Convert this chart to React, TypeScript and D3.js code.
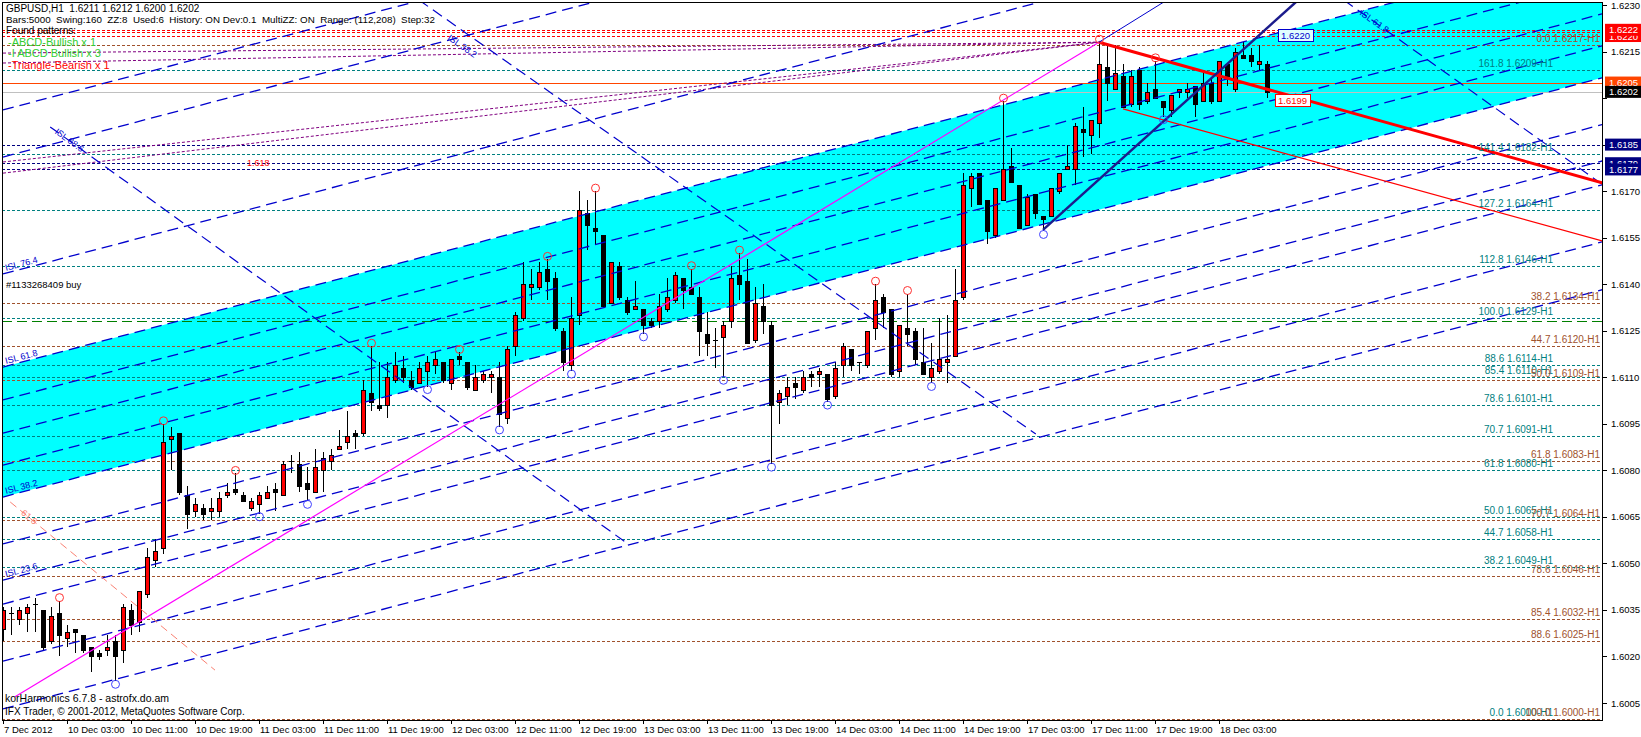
import React from 'react';
import * as d3 from 'd3';

// ---------- DATA ----------
const opens = [1.6029,1.6034,1.6032,1.6034,1.6037,1.6035,1.6025,1.6034,1.6026,1.6029,1.6027,1.6023,1.6021,1.6022,1.6025,1.6022,1.6035,1.6031,1.6040,1.6051,
1.6055,1.6090,1.6092,1.6072,1.6067,1.6068,1.6067,1.6067,1.6072,1.6074,1.6072,1.6068,1.6069,1.6071,1.6074,1.6072,1.6083,1.6082,1.6076,1.6073,
1.6080,1.6083,1.6087,1.6089,1.6092,1.6092,1.6105,1.6101,1.6101,1.6109,1.6113,1.6109,1.6108,1.6112,1.6114,1.6115,1.6108,1.6117,1.6115,1.6106,
1.6109,1.6110,1.6110,1.6097,1.6120,1.6129,1.6139,1.6139,1.6145,1.6142,1.6125,1.6114,1.6130,1.6163,1.6158,1.6156,1.6134,1.6146,1.6135,1.6132,
1.6132,1.6128,1.6128,1.6132,1.6135,1.6142,1.6139,1.6136,1.6124,1.6122,1.6123,1.6128,1.6143,1.6141,1.6122,1.6133,1.6127,1.6102,1.6104,1.6108,
1.6106,1.6111,1.6111,1.6111,1.6104,1.6114,1.6119,1.6115,1.6114,1.6126,1.6136,1.6132,1.6112,1.6126,1.6125,1.6115,1.6110,1.6112,1.6115,1.6117,
1.6136,1.6171,1.6176,1.6167,1.6156,1.6167,1.6178,1.6172,1.6159,1.6169,1.6162,1.6162,1.6170,1.6177,1.6177,1.6190,1.6188,1.6192,1.6210,1.6203,
1.6207,1.6198,1.6209,1.6199,1.6203,1.6199,1.6196,1.6202,1.6202,1.6204,1.6199,1.6205,1.6199,1.6211,1.6203,1.6214,1.6214,1.6211,1.6211];
const highs = [1.6036,1.6036,1.6036,1.6037,1.6039,1.6035,1.6036,1.6038,1.6030,1.6029,1.6027,1.6023,1.6022,1.6027,1.6027,1.6037,1.6037,1.6041,1.6055,1.6058,
1.6095,1.6094,1.6092,1.6075,1.6071,1.6069,1.6071,1.6073,1.6076,1.6079,1.6073,1.6071,1.6073,1.6075,1.6076,1.6083,1.6085,1.6086,1.6081,1.6087,
1.6086,1.6087,1.6093,1.6099,1.6093,1.6109,1.6120,1.6115,1.6115,1.6118,1.6117,1.6112,1.6115,1.6117,1.6118,1.6115,1.6116,1.6118,1.6115,1.6114,
1.6112,1.6112,1.6115,1.6120,1.6131,1.6147,1.6145,1.6147,1.6148,1.6144,1.6126,1.6136,1.6170,1.6167,1.6170,1.6156,1.6147,1.6147,1.6136,1.6141,
1.6132,1.6129,1.6137,1.6142,1.6144,1.6142,1.6145,1.6139,1.6131,1.6126,1.6128,1.6146,1.6150,1.6148,1.6139,1.6140,1.6128,1.6106,1.6110,1.6110,
1.6112,1.6112,1.6113,1.6111,1.6115,1.6121,1.6119,1.6115,1.6125,1.6140,1.6137,1.6132,1.6127,1.6137,1.6126,1.6126,1.6121,1.6129,1.6130,1.6145,
1.6176,1.6176,1.6176,1.6167,1.6171,1.6199,1.6184,1.6172,1.6169,1.6169,1.6162,1.6171,1.6176,1.6185,1.6192,1.6197,1.6193,1.6218,1.6217,1.6217,
1.6211,1.6209,1.6210,1.6205,1.6212,1.6199,1.6201,1.6203,1.6205,1.6204,1.6208,1.6206,1.6212,1.6211,1.6216,1.6218,1.6216,1.6217,1.6212];
const lows = [1.6025,1.6027,1.6030,1.6028,1.6028,1.6022,1.6024,1.6020,1.6023,1.6021,1.6021,1.6015,1.6019,1.6020,1.6012,1.6018,1.6027,1.6028,1.6039,1.6049,
1.6053,1.6080,1.6072,1.6061,1.6065,1.6064,1.6064,1.6065,1.6071,1.6072,1.6070,1.6067,1.6066,1.6071,1.6067,1.6072,1.6079,1.6073,1.6070,1.6073,
1.6073,1.6080,1.6087,1.6087,1.6087,1.6091,1.6099,1.6099,1.6097,1.6108,1.6108,1.6106,1.6108,1.6107,1.6111,1.6108,1.6106,1.6114,1.6106,1.6106,
1.6108,1.6105,1.6094,1.6095,1.6117,1.6128,1.6135,1.6138,1.6135,1.6125,1.6112,1.6112,1.6127,1.6151,1.6153,1.6133,1.6134,1.6135,1.6130,1.6132,
1.6124,1.6126,1.6126,1.6131,1.6134,1.6132,1.6137,1.6117,1.6117,1.6113,1.6110,1.6126,1.6135,1.6121,1.6121,1.6124,1.6082,1.6095,1.6101,1.6103,
1.6105,1.6107,1.6107,1.6102,1.6103,1.6110,1.6112,1.6111,1.6113,1.6122,1.6126,1.6110,1.6110,1.6120,1.6114,1.6111,1.6108,1.6111,1.6108,1.6117,
1.6135,1.6165,1.6166,1.6153,1.6155,1.6167,1.6173,1.6158,1.6159,1.6161,1.6157,1.6162,1.6169,1.6177,1.6172,1.6181,1.6182,1.6187,1.6199,1.6203,
1.6197,1.6197,1.6196,1.6198,1.6200,1.6194,1.6194,1.6200,1.6200,1.6194,1.6199,1.6198,1.6199,1.6204,1.6202,1.6213,1.6210,1.6209,1.6200];
const closes = [1.6035,1.6034,1.6035,1.6036,1.6037,1.6023,1.6033,1.6027,1.6028,1.6028,1.6022,1.6020,1.6020,1.6023,1.6020,1.6036,1.6030,1.6041,1.6052,1.6054,
1.6089,1.6091,1.6073,1.6066,1.6069,1.6066,1.6068,1.6071,1.6073,1.6073,1.6070,1.6070,1.6072,1.6073,1.6073,1.6082,1.6083,1.6075,1.6074,1.6081,
1.6084,1.6085,1.6088,1.6091,1.6091,1.6106,1.6102,1.6100,1.6110,1.6114,1.6110,1.6107,1.6113,1.6115,1.6116,1.6109,1.6116,1.6116,1.6107,1.6110,
1.6111,1.6111,1.6098,1.6119,1.6130,1.6140,1.6140,1.6144,1.6141,1.6126,1.6115,1.6129,1.6164,1.6159,1.6157,1.6133,1.6147,1.6136,1.6131,1.6133,
1.6127,1.6127,1.6133,1.6136,1.6143,1.6138,1.6137,1.6125,1.6121,1.6122,1.6127,1.6142,1.6140,1.6121,1.6134,1.6128,1.6101,1.6105,1.6107,1.6107,
1.6110,1.6110,1.6112,1.6103,1.6113,1.6120,1.6114,1.6115,1.6125,1.6135,1.6131,1.6111,1.6127,1.6124,1.6116,1.6111,1.6113,1.6116,1.6116,1.6135,
1.6172,1.6175,1.6166,1.6157,1.6171,1.6177,1.6173,1.6158,1.6168,1.6163,1.6161,1.6171,1.6176,1.6178,1.6191,1.6189,1.6193,1.6211,1.6205,1.6208,
1.6197,1.6207,1.6198,1.6202,1.6200,1.6197,1.6201,1.6203,1.6203,1.6198,1.6205,1.6199,1.6212,1.6207,1.6215,1.6213,1.6212,1.6212,1.6202];

const swingHighBars = [7, 20, 29, 46, 57, 68, 74, 86, 92, 109, 113, 125, 137, 144];
const swingLowBars = [14, 32, 38, 53, 62, 71, 80, 90, 96, 103, 116, 130, 145];

const timeLabels = ['7 Dec 2012','10 Dec 03:00','10 Dec 11:00','10 Dec 19:00','11 Dec 03:00','11 Dec 11:00','11 Dec 19:00','12 Dec 03:00','12 Dec 11:00','12 Dec 19:00','13 Dec 03:00','13 Dec 11:00','13 Dec 19:00','14 Dec 03:00','14 Dec 11:00','14 Dec 19:00','17 Dec 03:00','17 Dec 11:00','17 Dec 19:00','18 Dec 03:00'];
const timeLabelBars = [0,8,16,24,32,40,48,56,64,72,80,88,96,104,112,120,128,136,144,152];

const priceTicks = [1.6230,1.6215,1.6200,1.6185,1.6170,1.6155,1.6140,1.6125,1.6110,1.6095,1.6080,1.6065,1.6050,1.6035,1.6020,1.6005];

const tealRatios = ['161.8','141.4','127.2','112.8','100.0','88.6','85.4','78.6','70.7','61.8','50.0','44.7','38.2','0.0'];
const tealPrices = [1.6209,1.6182,1.6164,1.6146,1.6129,1.6114,1.6110,1.6101,1.6091,1.6080,1.6065,1.6058,1.6049,1.6000];
const brownRatios = ['0.0','38.2','44.7','50.0','61.8','70.7','78.6','85.4','88.6','100.0'];
const brownPrices = [1.6217,1.6134,1.6120,1.6109,1.6083,1.6064,1.6046,1.6032,1.6025,1.6000];

const redDottedPrices = [1.6222, 1.62213, 1.6220];
const navyDottedPrices = [1.6185, 1.6179, 1.6177];
const orangeLinePrice = 1.6205;
const bidPrice = 1.6202;
const orderPrice = 1.6128;

const axisBoxPrices = [1.6222, 1.6220, 1.6205, 1.6202, 1.6185, 1.6179, 1.6177];

// ISL sliding parallel lines: price at bar 0, shared slope (price per bar)
const islStartPrices = [1.61962,1.61810,1.61433,1.61133,1.61027,1.60920,1.60817,1.60714,1.60563,1.60446,1.60369,1.60185,1.60031];
const islSlope = 0.0000676;
const channelUpper = 1.61133;
const channelLower = 1.60714;

// sloped segments [bar1, price1, bar2, price2]
const descLines = [
  [52.0, 1.62316, 129.1, 1.60917],
  [5.9, 1.61907, 78.1, 1.60563],
  [167.6, 1.62316, 200, 1.61720],
];
const salmonLine = [0.9, 1.60698, 26.5, 1.60156];
const magentaLine = [1.5, 1.6007, 137, 1.6218];
const redThick = [137, 1.6218, 200, 1.61726];
const redThin = [140, 1.61965, 200, 1.61539];
const navyThick = [130, 1.61575, 161.9, 1.62316];
const navyThin = [137, 1.6218, 145.5, 1.62316];
const purpleFanStarts = [1.62145, 1.62113, 1.61794, 1.61758];
const fanApex = [137, 1.6218];

// ---------- COMPONENT ----------
const FONT = "'Liberation Sans', Arial, sans-serif";

export default function App() {
  const W = 1641, H = 737;
  const plotL = 2, plotR = 1603, plotT = 2, plotB = 720;
  const x = d3.scaleLinear().domain([0, 200]).range([3, 1603]);
  const y = d3.scaleLinear().domain([1.6005, 1.6230]).range([703, 5]);
  const seg = (s: number[]) => ({ x1: x(s[0]), y1: y(s[1]), x2: x(s[2]), y2: y(s[3]) });
  const hy = (p: number) => Math.round(y(p)) + 0.5;

  const bandPath = (() => {
    const b0 = -1, b1 = 201;
    const pts: [number, number][] = [
      [x(b0), y(channelUpper + islSlope * b0)],
      [x(b1), y(channelUpper + islSlope * b1)],
      [x(b1), y(channelLower + islSlope * b1)],
      [x(b0), y(channelLower + islSlope * b0)],
    ];
    return d3.line()(pts) + 'Z';
  })();

  const bars = opens.map((o, i) => ({ i, o, h: highs[i], l: lows[i], c: closes[i] }));

  const boxColors = ['#FF0000', '#FF0000', '#FF4500', '#000000', '#000080', '#000080', '#000080'];
  const boxOrder = [1, 0, 2, 3, 5, 6, 4];
  const hiddenTick = (p: number) => axisBoxPrices.some(bp => Math.abs(bp - p) < 0.00035);

  const islLabel = (txt: string, px: number, py: number, ang: number, color = '#0000CD') => (
    <text x={px} y={py} fontSize={9} fill={color} transform={`rotate(${ang} ${px} ${py})`}>{txt}</text>
  );

  return (
    <svg width={W} height={H} style={{ position: 'absolute', left: 0, top: 0, background: '#fff', fontFamily: FONT }}>
      <defs>
        <clipPath id="plot"><rect x={plotL} y={plotT} width={plotR - plotL} height={plotB - plotT} /></clipPath>
      </defs>
      <rect x={0} y={0} width={W} height={H} fill="#fff" />
      <g clipPath="url(#plot)">
        <path d={bandPath} fill="#00FFFF" />
        {tealPrices.map((p, k) => (
          <line key={'t' + k} x1={plotL} x2={plotR} y1={hy(p)} y2={hy(p)} stroke="#008080" strokeDasharray="3,2" />
        ))}
        {brownPrices.map((p, k) => (
          <line key={'b' + k} x1={plotL} x2={plotR} y1={hy(p)} y2={hy(p)} stroke="#A0522D" strokeDasharray="3,2" />
        ))}
        {redDottedPrices.map((p, k) => (
          <line key={'r' + k} x1={plotL} x2={plotR} y1={hy(p)} y2={hy(p)} stroke="#FF0000" strokeDasharray="3,2" />
        ))}
        {navyDottedPrices.map((p, k) => (
          <line key={'n' + k} x1={plotL} x2={plotR} y1={hy(p)} y2={hy(p)} stroke="#000080" strokeDasharray="3,2" />
        ))}
        <line x1={plotL} x2={plotR} y1={hy(orangeLinePrice)} y2={hy(orangeLinePrice)} stroke="#FF4500" />
        <line x1={plotL} x2={plotR} y1={hy(bidPrice)} y2={hy(bidPrice)} stroke="#C0C0C0" />
        <line x1={plotL} x2={plotR} y1={hy(orderPrice)} y2={hy(orderPrice)} stroke="#008000" strokeDasharray="10,5" />

        {purpleFanStarts.map((p, k) => (
          <line key={'pf' + k} x1={x(0)} y1={y(p)} x2={x(fanApex[0])} y2={y(fanApex[1])} stroke="#800080" strokeDasharray="3,2" />
        ))}

        {bars.map(b => {
          const cx = Math.round(x(b.i));
          const bull = b.c > b.o;
          const top = Math.round(y(Math.max(b.o, b.c)));
          const bot = Math.round(y(Math.min(b.o, b.c)));
          return (
            <g key={'c' + b.i} shapeRendering="crispEdges">
              <line x1={cx + 0.5} x2={cx + 0.5} y1={Math.round(y(b.h))} y2={Math.round(y(b.l))} stroke="#000" />
              {bot - top < 1 ? (
                <line x1={cx - 2} x2={cx + 3} y1={top + 0.5} y2={top + 0.5} stroke="#000" />
              ) : (
                <rect x={cx - 1.5} y={top + 0.5} width={4} height={bot - top} fill={bull ? '#FF0000' : '#000'} stroke="#000" />
              )}
            </g>
          );
        })}

        {islStartPrices.map((p, k) => (
          <line key={'isl' + k} x1={x(0)} y1={y(p)} x2={x(200)} y2={y(p + islSlope * 200)} stroke="#0000CD" strokeWidth={1.3} strokeDasharray="11,6" />
        ))}
        {descLines.map((s, k) => (
          <line key={'d' + k} {...seg(s)} stroke="#0000CD" strokeWidth={1.2} strokeDasharray="11,6" />
        ))}
        <line {...seg(salmonLine)} stroke="#FA8072" strokeDasharray="8,5" />
        <line {...seg(magentaLine)} stroke="#FF00FF" strokeWidth={1.2} />
        <line {...seg(redThin)} stroke="#FF0000" strokeWidth={1.2} />
        <line {...seg(redThick)} stroke="#FF0000" strokeWidth={3} />
        <line {...seg(navyThick)} stroke="#1C1C8C" strokeWidth={2.5} />
        <line {...seg(navyThin)} stroke="#0000CD" strokeWidth={1} />

        {swingHighBars.map(i => (
          <circle key={'sh' + i} cx={x(i) + 0.5} cy={y(highs[i]) - 3} r={4} fill="none" stroke="#FF3030" />
        ))}
        {swingLowBars.map(i => (
          <circle key={'sl' + i} cx={x(i) + 0.5} cy={y(lows[i]) + 3} r={4} fill="none" stroke="#4040FF" />
        ))}

        {tealPrices.map((p, k) => (
          <text key={'tl' + k} x={1553} y={y(p) - 3} fontSize={10} fill="#008080" textAnchor="end">{tealRatios[k] + ' ' + p.toFixed(4) + '-H1'}</text>
        ))}
        {brownPrices.map((p, k) => (
          <text key={'bl' + k} x={1600} y={y(p) - 3} fontSize={10} fill="#A0522D" textAnchor="end">{brownRatios[k] + ' ' + p.toFixed(4) + '-H1'}</text>
        ))}

        {islLabel('ISL 76.4', 6, y(islStartPrices[2]) - 3, -14.7)}
        {islLabel('ISL 61.8', 6, y(channelUpper) - 3, -14.7)}
        {islLabel('ISL 38.2', 6, y(channelLower) - 3, -14.7)}
        {islLabel('ISL 23.6', 6, y(islStartPrices[9]) - 3, -14.7)}
        {islLabel('ISL 88.6', x(descLines[1][0]) + 4, y(descLines[1][1]) + 6, 36)}
        {islLabel('ISL 38.2', x(55.5), y(1.6219), 35)}
        {islLabel('ISL 61.8', x(169.5), y(1.6227), 35)}
        {islLabel('61.8', x(2.2), y(1.6066), 40, '#FA8072')}
        <text x={x(30.5)} y={y(1.6178)} fontSize={9} fill="#FF0000">1.618</text>

        <rect x={1278.5} y={29.5} width={35} height={12} fill="#E0FFFF" stroke="#0000CD" />
        <text x={1281} y={39} fontSize={9.5} fill="#0000CD">1.6220</text>
        <rect x={1275.5} y={94.5} width={35} height={12} fill="#FFFFFF" stroke="#FF0000" />
        <text x={1278} y={104} fontSize={9.5} fill="#FF0000">1.6199</text>

        <text x={6} y={y(orderPrice) - 33} fontSize={9.5} fill="#000">#1133268409 buy</text>

        <text x={6} y={12} fontSize={10} fill="#000" xmlSpace="preserve" style={{ whiteSpace: 'pre' }}>GBPUSD,H1  1.6211 1.6212 1.6200 1.6202</text>
        <text x={6} y={23} fontSize={9.8} fill="#000" xmlSpace="preserve" style={{ whiteSpace: 'pre' }}>Bars:5000  Swing:160  ZZ:8  Used:6  History: ON Dev:0.1  MultiZZ: ON  Range: (112,208)  Step:32</text>
        <text x={6} y={34} fontSize={10} fill="#000">Found patterns:</text>
        <text x={8} y={46} fontSize={11} fill="#32CD32">-ABCD-Bullish x 1</text>
        <text x={8} y={57} fontSize={11} fill="#32CD32">-I ABCD Bullish x 3</text>
        <text x={8} y={69} fontSize={11} fill="#FF0000">-Triangle-Bearish x 1</text>
        <text x={5} y={702} fontSize={10.5} fill="#000">korHarmonics 6.7.8 - astrofx.do.am</text>
        <text x={5} y={715} fontSize={10} fill="#000">IFX Trader, © 2001-2012, MetaQuotes Software Corp.</text>
      </g>

      <rect x={plotL + 0.5} y={plotT + 0.5} width={plotR - plotL - 1} height={plotB - plotT} fill="none" stroke="#000" shapeRendering="crispEdges" />

      {priceTicks.map((p, k) => (
        <g key={'pt' + k}>
          <line x1={plotR} x2={plotR + 4} y1={hy(p)} y2={hy(p)} stroke="#000" />
          {!hiddenTick(p) && <text x={1611} y={y(p) + 3.5} fontSize={9.5} fill="#000">{p.toFixed(4)}</text>}
        </g>
      ))}
      {boxOrder.map(k => {
        const p = axisBoxPrices[k];
        const cy = y(p);
        return (
          <g key={'box' + k}>
            <rect x={1605} y={cy - 6} width={36} height={12} fill={boxColors[k]} />
            <text x={1609} y={cy + 3.5} fontSize={9.5} fill="#fff">{p.toFixed(4)}</text>
          </g>
        );
      })}

      {timeLabelBars.map((b, k) => (
        <g key={'tk' + k}>
          <line x1={x(b) + 0.5} x2={x(b) + 0.5} y1={plotB} y2={plotB + 4} stroke="#000" />
          <text x={x(b) + 1} y={733} fontSize={9.5} fill="#000">{timeLabels[k]}</text>
        </g>
      ))}
    </svg>
  );
}
